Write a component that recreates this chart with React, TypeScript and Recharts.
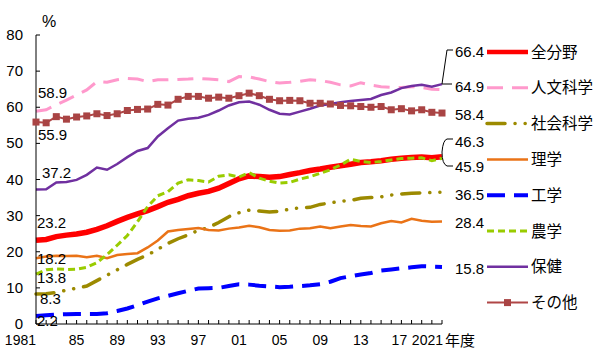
import React from 'react';
import { LineChart, Line, XAxis, YAxis } from 'recharts';

const years = [
  1981, 1982, 1983, 1984, 1985, 1986, 1987, 1988, 1989, 1990,
  1991, 1992, 1993, 1994, 1995, 1996, 1997, 1998, 1999, 2000,
  2001, 2002, 2003, 2004, 2005, 2006, 2007, 2008, 2009, 2010,
  2011, 2012, 2013, 2014, 2015, 2016, 2017, 2018, 2019, 2020, 2021,
];

const zenbunya = [
  23.2, 23.4, 24.2, 24.6, 24.9, 25.4, 26.2, 27.2, 28.4, 29.5,
  30.5, 31.4, 32.5, 33.7, 34.5, 35.5, 36.2, 36.7, 37.6, 38.9,
  40.2, 41.0, 40.8, 40.6, 40.8, 41.4, 41.9, 42.5, 42.9, 43.4,
  43.8, 44.2, 44.7, 44.9, 45.2, 45.6, 45.9, 46.1, 46.2, 46.0, 46.3,
];
const jinbun = [
  58.9, 59.3, 60.7, 62.0, 63.4, 64.8, 67.1, 66.9, 67.6, 68.0,
  67.8, 67.1, 67.6, 67.6, 67.7, 67.8, 68.0, 67.8, 67.6, 67.1,
  68.5, 68.4, 67.8, 67.1, 66.7, 66.9, 67.2, 67.6, 67.4, 66.9,
  66.2, 65.9, 66.8, 66.1, 65.7, 65.5, 65.5, 65.7, 65.5, 65.0, 64.9,
];
const shakai = [
  8.3, 8.4, 8.7, 9.4, 9.9, 10.5, 12.0, 13.5, 15.0, 16.5,
  17.9, 19.1, 20.7, 22.3, 23.6, 24.7, 25.9, 26.7, 28.1, 29.7,
  30.8, 31.5, 31.3, 31.0, 31.2, 31.8, 32.2, 32.3, 33.1, 33.5,
  34.0, 34.2, 34.8, 35.0, 35.2, 35.7, 36.0, 36.2, 36.3, 36.4, 36.5,
];
const rigaku = [
  18.2, 18.7, 18.9, 18.8, 18.9, 18.5, 18.9, 18.2, 19.1, 19.4,
  19.6, 21.2, 23.1, 25.6, 26.0, 26.3, 26.6, 26.0, 25.9, 26.4,
  26.7, 27.2, 26.8, 26.0, 25.8, 25.9, 26.4, 26.5, 27.0, 26.5,
  27.0, 27.4, 27.1, 27.0, 27.9, 28.5, 28.1, 29.1, 28.6, 28.3, 28.4,
];
const kougaku = [
  2.2, 2.4, 2.6, 2.7, 2.8, 2.8, 2.8, 3.0, 3.6, 4.3,
  5.2, 6.2, 7.1, 7.8, 8.5, 9.2, 9.8, 9.9, 10.0, 10.5,
  11.0, 10.9, 10.6, 10.4, 10.2, 10.3, 10.5, 10.7, 11.0, 11.7,
  12.7, 13.2, 13.7, 14.1, 14.8, 15.1, 15.4, 15.7, 16.0, 15.9, 15.8,
];
const nougaku = [
  13.8, 15.0, 15.2, 15.1, 15.2, 15.7, 17.0, 19.2, 21.8, 24.5,
  28.3, 32.5, 35.5, 36.6, 39.0, 39.9, 39.7, 39.3, 40.9, 41.3,
  40.7, 41.9, 40.4, 39.5, 39.0, 39.2, 40.1, 40.8, 41.7, 42.7,
  44.0, 45.6, 45.0, 44.7, 45.0, 45.4, 45.8, 45.9, 46.0, 45.2, 45.9,
];
const hoken = [
  37.2, 37.3, 39.2, 39.3, 39.9, 41.3, 43.3, 42.7, 44.3, 46.2,
  47.9, 48.7, 51.9, 54.2, 56.3, 56.8, 57.1, 57.9, 59.1, 60.5,
  61.4, 61.6, 60.7, 59.3, 58.2, 58.0, 58.8, 59.6, 60.5, 60.9,
  61.4, 61.7, 62.0, 62.3, 63.4, 64.1, 65.3, 65.9, 66.2, 65.7, 66.4,
];
const sonota = [
  55.9, 55.7, 57.4, 56.7, 57.3, 57.6, 58.2, 57.7, 58.2, 59.1,
  59.4, 59.5, 60.8, 60.6, 62.2, 63.0, 63.0, 62.5, 62.8, 62.5,
  63.2, 63.9, 63.2, 62.2, 61.8, 61.9, 61.8, 61.1, 61.1, 60.9,
  60.5, 60.4, 60.2, 60.0, 60.2, 59.3, 59.6, 59.0, 59.3, 58.6, 58.4,
];

const yTicks = [0, 10, 20, 30, 40, 50, 60, 70, 80];
const xLabels: Record<number, string> = {
  1981: '1981', 1985: '85', 1989: '89', 1993: '93', 1997: '97',
  2001: '01', 2005: '05', 2009: '09', 2013: '13', 2017: '17', 2021: '2021',
};

const seriesNames = ['全分野', '人文科学', '社会科学', '理学', '工学', '農学', '保健', 'その他'];
const seriesValues = [zenbunya, jinbun, shakai, rigaku, kougaku, nougaku, hoken, sonota];

const seriesStyle = [
  { color: '#ff0000', width: 5.5, dash: undefined, cap: 'butt' },
  { color: '#ff99cc', width: 3, dash: '16 9', cap: 'butt' },
  { color: '#9c8a00', width: 3.5, dash: '18 10 0.1 10 0.1 10', cap: 'round' },
  { color: '#ea7317', width: 2.5, dash: undefined, cap: 'butt' },
  { color: '#0000ff', width: 4, dash: '18 9', cap: 'butt' },
  { color: '#99cc00', width: 3, dash: '7 4', cap: 'butt' },
  { color: '#7030a0', width: 2.5, dash: undefined, cap: 'butt' },
  { color: '#b04646', width: 2, dash: undefined, cap: 'butt' },
];

// labels at the start and end of the lines
const startLabels = [
  { text: '58.9', x: 38, y: 93 },
  { text: '55.9', x: 38, y: 135 },
  { text: '37.2', x: 42, y: 173 },
  { text: '23.2', x: 37, y: 223 },
  { text: '18.2', x: 37, y: 259 },
  { text: '13.8', x: 37, y: 278 },
  { text: '8.3', x: 40, y: 299 },
  { text: '2.2', x: 37, y: 321 },
];
const endLabels = [
  { text: '66.4', y: 52 },
  { text: '64.9', y: 87 },
  { text: '58.4', y: 115 },
  { text: '46.3', y: 142 },
  { text: '45.9', y: 167 },
  { text: '36.5', y: 195 },
  { text: '28.4', y: 223 },
  { text: '15.8', y: 269 },
];

const chartData = years.map((year, i) => {
  const row: Record<string, number> = { year };
  seriesNames.forEach((name, s) => {
    row[name] = seriesValues[s][i];
  });
  return row;
});

const numFont = "'Liberation Sans', Arial, sans-serif";
const jpFont = "'Noto Sans CJK JP', sans-serif";

const XTick = (props: any) => {
  const { x, y, payload } = props;
  const label = xLabels[payload.value];
  const isEdge = payload.value === 1981 || payload.value === 2021;
  const dx = payload.value === 2017 ? -2 : payload.value === 2021 ? 1 : 0;
  return (
    <g>
      <line x1={x} y1={y} x2={x} y2={y - 4} stroke="#000" strokeWidth={1} />
      {label && (
        <text x={x + dx} y={y + 21} textAnchor={isEdge ? 'end' : 'middle'} fontSize={14} fontFamily={numFont} fill="#000">
          {label}
        </text>
      )}
    </g>
  );
};

const YTick = (props: any) => {
  const { x, y, payload } = props;
  return (
    <g>
      <line x1={x} y1={y} x2={x + 4} y2={y} stroke="#000" strokeWidth={1} />
      <text x={x - 13} y={y + 5} textAnchor="end" fontSize={15} fontFamily={numFont} fill="#000">
        {payload.value}
      </text>
    </g>
  );
};

const Square = (props: any) => {
  const { cx, cy, index } = props;
  return <rect key={`sq-${index}`} x={cx - 3.5} y={cy - 3.5} width={7} height={7} fill="#a94444" />;
};

const App: React.FC = () => {
  return (
    <div style={{ position: 'absolute', left: 0, top: 0, width: 600, height: 358, background: '#fff' }}>
      <LineChart width={600} height={358} data={chartData} margin={{ top: 35, right: 158, bottom: 4, left: 6 }}>
        <XAxis
          dataKey="year"
          type="number"
          domain={[1981, 2021]}
          ticks={years}
          interval={0}
          height={30}
          tickSize={0}
          tickMargin={0}
          tickLine={false}
          axisLine={{ stroke: '#000', strokeWidth: 1 }}
          tick={<XTick />}
        />
        <YAxis
          type="number"
          domain={[0, 80]}
          ticks={yTicks}
          interval={0}
          width={30}
          tickSize={0}
          tickMargin={0}
          tickLine={false}
          axisLine={{ stroke: '#000', strokeWidth: 1 }}
          tick={<YTick />}
        />
        {seriesNames.map((name, s) => (
          <Line
            key={name}
            dataKey={name}
            type="linear"
            stroke={seriesStyle[s].color}
            strokeWidth={seriesStyle[s].width}
            strokeDasharray={seriesStyle[s].dash}
            strokeLinecap={seriesStyle[s].cap as any}
            dot={name === 'その他' ? <Square /> : false}
            activeDot={false}
            isAnimationActive={false}
          />
        ))}
      </LineChart>
      <svg width={600} height={358} style={{ position: 'absolute', left: 0, top: 0, pointerEvents: 'none' }}>
        <text x={49} y={27} textAnchor="middle" fontSize={16} fontFamily={numFont}>%</text>
        <text x={445} y={346} fontSize={15} fontFamily={jpFont}>年度</text>
        {startLabels.map((l) => (
          <text key={l.text} x={l.x} y={l.y + 5} fontSize={15} fontFamily={numFont} fill="#000">{l.text}</text>
        ))}
        {endLabels.map((l) => (
          <text key={l.text} x={455} y={l.y + 5} fontSize={15} fontFamily={numFont} fill="#000">{l.text}</text>
        ))}
        <polyline points="453,50 447,50 442,84" fill="none" stroke="#000" strokeWidth={1} />
        <line x1={442} y1={84} x2={452} y2={84} stroke="#000" strokeWidth={1} />
        <path d="M453,139 L447,139 Q443,140 442,152 Q442,164 447,166 L453,166" fill="none" stroke="#000" strokeWidth={1} />
        {seriesNames.map((name, s) => {
          const cy = 52 + s * 35.8;
          const st = seriesStyle[s];
          return (
            <g key={name}>
              <line
                x1={487}
                y1={cy}
                x2={528}
                y2={cy}
                stroke={st.color}
                strokeWidth={Math.min(st.width, 4.5)}
                strokeDasharray={st.dash}
                strokeLinecap={st.cap as any}
              />
              {name === 'その他' && <rect x={504} y={cy - 3.5} width={7} height={7} fill="#a94444" />}
              <text x={531} y={cy + 5.5} fontSize={15.5} fontFamily={jpFont} fill="#000">{name}</text>
            </g>
          );
        })}
      </svg>
    </div>
  );
};

export default App;
